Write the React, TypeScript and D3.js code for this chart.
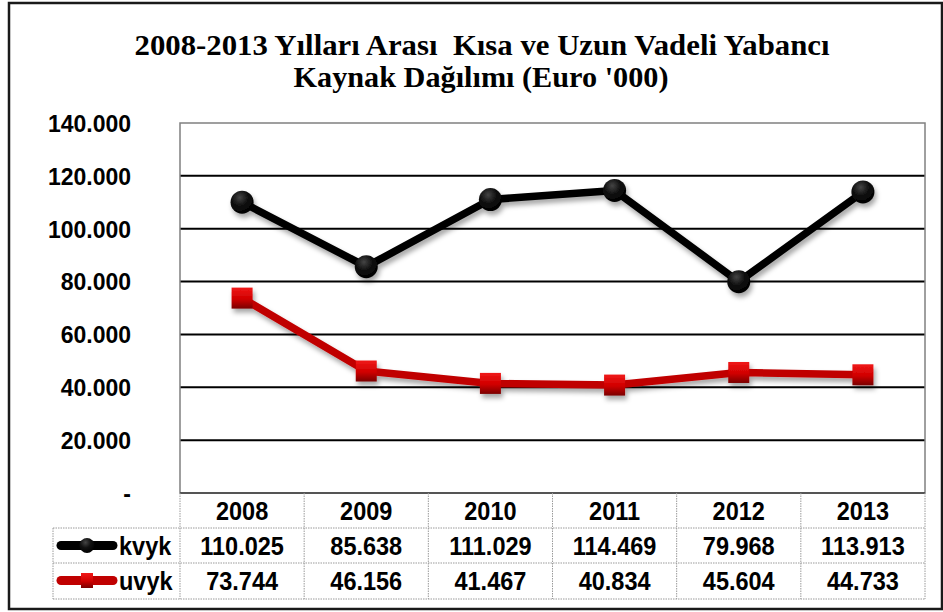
import React from 'react';
import * as d3 from 'd3';

// chart data
const years = ['2008', '2009', '2010', '2011', '2012', '2013'];
const kvyk = [110025, 85638, 111029, 114469, 79968, 113913];
const uvyk = [73744, 46156, 41467, 40834, 45604, 44733];
const yTicks = [0, 20000, 40000, 60000, 80000, 100000, 120000, 140000];
const titleLines = ['2008-2013 Yılları Arası  Kısa ve Uzun Vadeli Yabancı', "Kaynak Dağılımı (Euro '000)"];

const trLocale = d3.formatLocale({ decimal: ',', thousands: '.', grouping: [3], currency: ['', ''] });
const fmt = trLocale.format(',d');
const tickFmt = (v: number) => (v === 0 ? '-' : fmt(v));

const W = 943;
const H = 612;
const plot = { left: 180, right: 925, top: 123, bottom: 493 };
const rowH = 35;
const axisFont = '"Liberation Sans", Arial, sans-serif';

// bold Arial text, a little taller than normal like the original
const Label = ({ x, y, anchor = 'middle', size = 23.5, children }: any) => (
  <g transform={`translate(${x},${y}) scale(1,1.06)`}>
    <text x={0} y={0} dy="0.36em" textAnchor={anchor} fontFamily={axisFont} fontWeight="bold" fontSize={size} fill="#000">{children}</text>
  </g>
);

const App = () => {
  const x = d3.scaleBand().domain(years).range([plot.left, plot.right]).padding(0);
  const y = d3.scaleLinear().domain([0, 140000]).range([plot.bottom, plot.top]);
  const cx = (d: string) => (x(d) as number) + x.bandwidth() / 2;

  const line = d3.line<number>()
    .x((_, i) => cx(years[i]))
    .y(d => y(d));

  const series = [
    { name: 'kvyk', values: kvyk, color: '#000000', shape: 'circle' },
    { name: 'uvyk', values: uvyk, color: '#c00000', shape: 'square' },
  ];

  const tableTop = plot.bottom;
  const legendLeft = 53;
  const rowY = (r: number) => tableTop + r * rowH;

  const marker = (s: typeof series[0], px: number, py: number, size: number, key: string) =>
    s.shape === 'circle'
      ? <circle key={key} cx={px} cy={py} r={size} fill="url(#gBlack)" />
      : <rect key={key} x={px - size} y={py - size} width={size * 2} height={size * 2} fill="url(#gRed)" />;

  return (
    <svg width={W} height={H} style={{ position: 'absolute', left: 0, top: 0 }}>
      <defs>
        <radialGradient id="gBlack" cx="0.4" cy="0.3" r="0.7">
          <stop offset="0" stopColor="#444" />
          <stop offset="0.5" stopColor="#111" />
          <stop offset="1" stopColor="#000" />
        </radialGradient>
        <linearGradient id="gRed" x1="0" y1="0" x2="0" y2="1">
          <stop offset="0" stopColor="#f01818" />
          <stop offset="0.55" stopColor="#d00000" />
          <stop offset="1" stopColor="#7a0000" />
        </linearGradient>
        <filter id="shadow" x="-20%" y="-20%" width="140%" height="160%">
          <feDropShadow dx="2" dy="4" stdDeviation="2.5" floodColor="#000" floodOpacity="0.35" />
        </filter>
      </defs>

      <rect x={0} y={0} width={W} height={H} fill="#fff" />
      <rect x={9} y={3} width={933} height={606} fill="none" stroke="#1a1a1a" strokeWidth={2.5} />

      {/* title */}
      <g fontFamily='"Liberation Serif", "DejaVu Serif", serif' fontWeight="bold" fontSize={30} fill="#000" textAnchor="middle">
        <text x={482} y={55} textLength={695} lengthAdjust="spacingAndGlyphs" style={{ whiteSpace: 'pre' }}>{titleLines[0]}</text>
        <text x={481} y={87} textLength={375} lengthAdjust="spacingAndGlyphs">{titleLines[1]}</text>
      </g>

      {/* gridlines */}
      {yTicks.filter(t => t > 0 && t < 140000).map(t => (
        <line key={t} x1={plot.left} x2={plot.right} y1={y(t)} y2={y(t)} stroke="#000" strokeWidth={2} />
      ))}
      <rect x={plot.left} y={plot.top} width={plot.right - plot.left} height={plot.bottom - plot.top}
        fill="none" stroke="#808080" strokeWidth={1.5} />
      <line x1={plot.left} x2={plot.right} y1={plot.bottom} y2={plot.bottom} stroke="#555" strokeWidth={2} />

      {/* y axis labels */}
      {yTicks.map(t => (
        <Label key={t} x={131} y={y(t)} anchor="end" size={23}>{tickFmt(t)}</Label>
      ))}

      {/* lines & markers */}
      {series.map(s => (
        <g key={s.name} filter="url(#shadow)">
          <path d={line(s.values) || ''} fill="none" stroke={s.color} strokeWidth={7.5} strokeLinejoin="round" />
          {s.values.map((v, i) => marker(s, cx(years[i]), y(v), s.shape === 'circle' ? 11.5 : 10.5, s.name + i))}
        </g>
      ))}

      {/* data table */}
      <g stroke="#9a9a9a" strokeWidth={1} strokeDasharray="1.5,1">
        {d3.range(1, 4).map(r => (
          <line key={'h' + r} x1={legendLeft} x2={plot.right} y1={rowY(r) + (r === 3 ? 1 : 0)} y2={rowY(r) + (r === 3 ? 1 : 0)} />
        ))}
        <line x1={legendLeft} x2={legendLeft} y1={rowY(1)} y2={rowY(3) + 1} />
        {years.map(yr => (
          <line key={'v' + yr} x1={x(yr) as number} x2={x(yr) as number} y1={tableTop} y2={rowY(3) + 1} />
        ))}
        <line x1={plot.right} x2={plot.right} y1={tableTop} y2={rowY(3) + 1} />
      </g>

      {years.map(yr => (
        <Label key={yr} x={cx(yr)} y={rowY(0) + rowH / 2 + 0.5}>{yr}</Label>
      ))}
      {series.map((s, r) =>
        s.values.map((v, i) => (
          <Label key={s.name + i} x={cx(years[i])} y={rowY(r + 1) + rowH / 2 + 0.5}>{fmt(v)}</Label>
        ))
      )}

      {/* legend keys */}
      {series.map((s, r) => {
        const ly = rowY(r + 1) + rowH / 2;
        return (
          <g key={'lg' + s.name}>
            <line x1={61} x2={113} y1={ly} y2={ly} stroke={s.color} strokeWidth={9} strokeLinecap="round" />
            {s.shape === 'circle'
              ? <circle cx={87} cy={ly} r={7.5} fill="url(#gBlack)" />
              : <rect x={81} y={ly - 7.5} width={12} height={15} fill="url(#gRed)" />}
            <Label x={119} y={ly + 0.5} anchor="start">{s.name}</Label>
          </g>
        );
      })}
    </svg>
  );
};

export default App;
